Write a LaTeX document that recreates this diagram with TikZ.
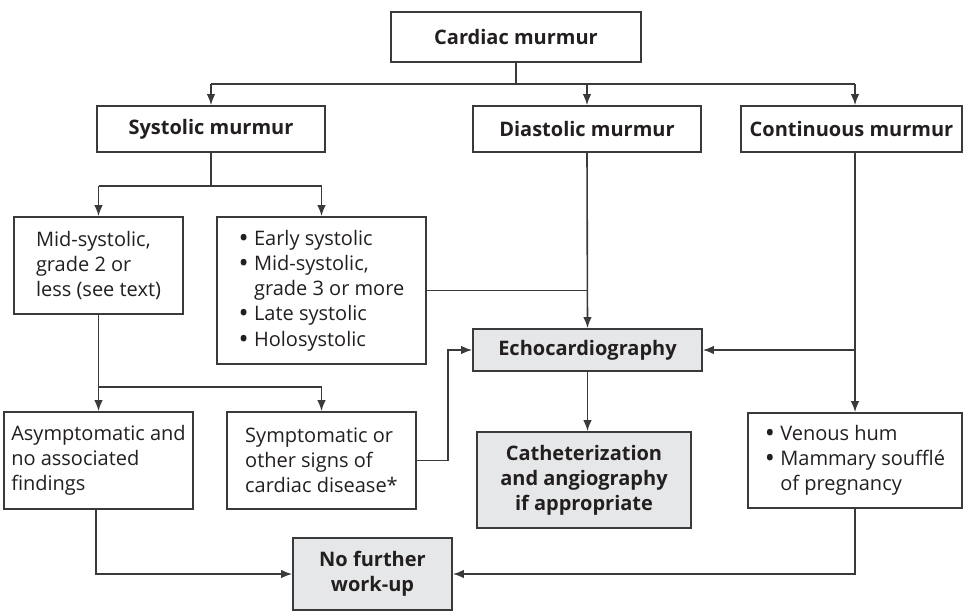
\documentclass[tikz,border=0pt]{standalone}
\usepackage{fontspec}
\setmainfont{Open Sans}
\usetikzlibrary{arrows.meta}
\definecolor{boxgrey}{HTML}{E6E7E8}
\definecolor{linegrey}{HTML}{3A3A3A}
\definecolor{textgrey}{HTML}{231F20}
\tikzset{>={Latex[length=5.5pt,width=4.2pt]}}
\newcommand{\itm}{\raisebox{-0.1em}{\scalebox{1.35}{\textbullet}}\ }
\newcommand{\ind}{\phantom{\itm}}

\begin{document}
\begin{tikzpicture}[x=0.5pt,y=-0.5pt,line width=0.8pt,
  box/.style={draw=linegrey, fill=white, inner sep=0pt, text=textgrey,
    font=\fontsize{10}{12.6}\selectfont},
  head/.style={box, align=center, font=\fontsize{10}{12.6}\selectfont\bfseries},
  list/.style={box, align=left},
  grey/.style={fill=boxgrey},
  link/.style={draw=linegrey}]
  \useasboundingbox (0,0) rectangle (963,612);

  % Nodes
  \node[head, minimum width=125pt, minimum height=25pt] (cardiac) at (516,37) {Cardiac murmur};
  \node[head, minimum width=114pt, minimum height=23pt] (systolic) at (211,129) {Systolic murmur};
  \node[head, minimum width=114pt, minimum height=23pt] (diastolic) at (587,129) {Diastolic murmur};
  \node[head, minimum width=110.5pt, minimum height=23pt] (continuous) at (851.5,129) {Continuous murmur};

  \node[list, minimum width=84.5pt, minimum height=48.5pt] (midsys) at (98.5,265.5)
    {Mid-systolic,\\grade 2 or\\less (see text)};
  \node[list, minimum width=104.5pt, minimum height=73.5pt] (earlysys) at (321.5,290.5)
    {\itm Early systolic\\\itm Mid-systolic,\\\ind grade 3 or more\\\itm Late systolic\\\itm Holosystolic};

  \node[head, grey, minimum width=114.5pt, minimum height=21pt] (echo) at (587.5,350) {Echocardiography};
  \node[head, grey, minimum width=107pt, minimum height=48pt] (cath) at (584,480)
    {Catheterization\\and angiography\\if appropriate};

  \node[list, minimum width=94.5pt, minimum height=48.5pt] (asymp) at (98.5,460.5)
    {Asymptomatic and\\no associated\\findings};
  \node[list, minimum width=94.5pt, minimum height=48.5pt] (symp) at (321.5,460.5)
    {Symptomatic or\\other signs of\\cardiac disease*};
  \node[list, minimum width=107pt, minimum height=47.5pt] (venous) at (855,460.5)
    {\itm Venous hum\\\itm Mammary soufflé\\\ind of pregnancy};

  \node[head, grey, minimum width=79.5pt, minimum height=36pt] (nowork) at (372.5,574)
    {No further\\work-up};

  % Connectors
  \draw[link] (cardiac.south) -- ++(0,21) coordinate (top);
  \draw[link] (top -| systolic) -- (top -| venous);
  \draw[link,->] (top -| systolic) -- (systolic.north);
  \draw[link,->] (top -| diastolic) -- (diastolic.north);
  \draw[link,->] (top -| venous) -- (continuous.north -| venous);

  \draw[link] (systolic.south) -- ++(0,33) coordinate (sysfork);
  \draw[link] (sysfork -| midsys) -- (sysfork -| earlysys);
  \draw[link,->] (sysfork -| midsys) -- (midsys.north);
  \draw[link,->] (sysfork -| earlysys) -- (earlysys.north);

  \draw[link,->] (diastolic.south) -- (echo.north);
  \draw[link] (earlysys.east) -- (earlysys.east -| echo.north);

  \draw[link] (midsys.south) -- ++(0,72) coordinate (midfork);
  \draw[link] (midfork) -- (midfork -| symp);
  \draw[link,->] (midfork) -- (asymp.north);
  \draw[link,->] (midfork -| symp) -- (symp.north);

  \draw[link,->] (symp.east) -- ++(31,0) |- (echo.west);

  \draw[link] (continuous.south -| venous) -- (echo.east -| venous) coordinate (contmid);
  \draw[link,->] (contmid) -- (echo.east);
  \draw[link,->] (contmid) -- (venous.north);

  \draw[link,->] (echo.south) -- (echo.south |- cath.north);

  \draw[link,->] ([xshift=-1.25pt]asymp.south) |- (nowork.west);
  \draw[link,->] (venous.south) |- (nowork.east);

\end{tikzpicture}
\end{document}
